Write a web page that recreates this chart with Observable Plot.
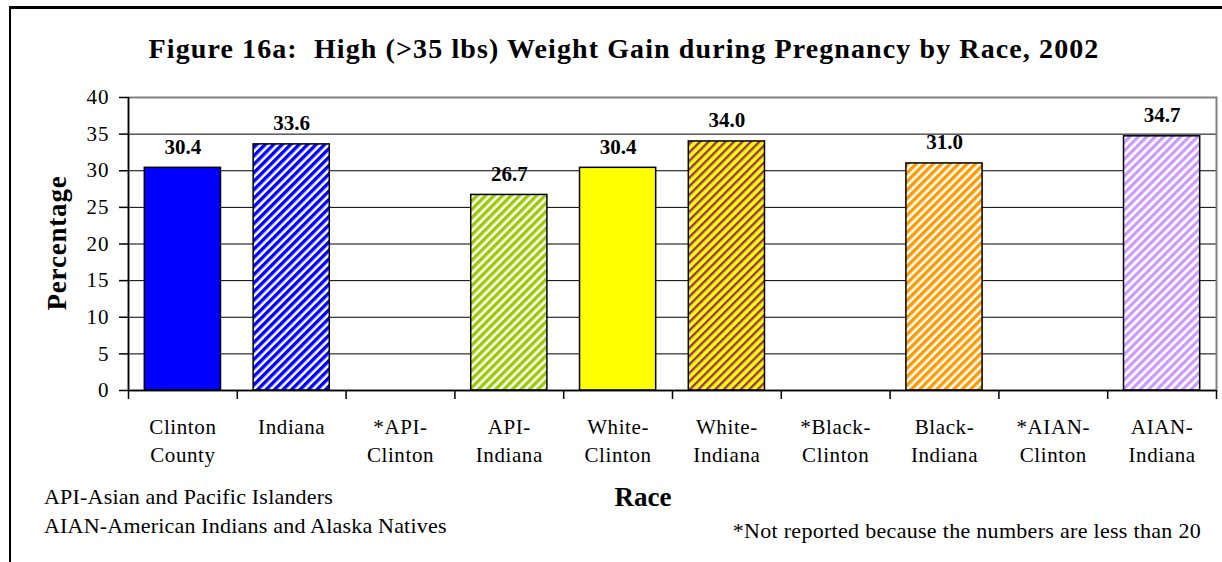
<!DOCTYPE html>
<html>
<head>
<meta charset="utf-8">
<script src="https://cdn.jsdelivr.net/npm/d3@7"></script>
<script src="https://cdn.jsdelivr.net/npm/@observablehq/plot@0.6"></script>
<style>
  body { margin: 0; background: #fff; }
  #wrap { position: relative; width: 1222px; height: 562px; overflow: hidden; font-family: "Liberation Serif", "Times New Roman", serif; color: #000; }
  #outer { position: absolute; left: 9px; top: 6px; width: 1300px; height: 700px; border-left: 2px solid #000; border-top: 3px solid #000; }
  #chart { position: absolute; left: 0; top: 0; }
  #chart svg text { font-family: "Liberation Serif", "Times New Roman", serif; }
  .t { position: absolute; white-space: nowrap; line-height: 1; }
</style>
</head>
<body>
<div id="wrap">
  <div id="outer"></div>
  <div id="chart"></div>
  <div class="t" style="left:0;width:1248px;text-align:center;top:35px;font-size:28px;font-weight:bold;letter-spacing:1.1px;">Figure 16a:&nbsp; High (&gt;35 lbs) Weight Gain during Pregnancy by Race, 2002</div>
  <div class="t" id="ylab" style="left:57px;top:243px;font-size:27px;font-weight:bold;letter-spacing:0.8px;transform:translate(-50%,-50%) rotate(-90deg);">Percentage</div>
  <div class="t" style="left:543px;width:200px;text-align:center;top:484px;font-size:27px;font-weight:bold;">Race</div>
  <div class="t" style="left:44px;top:486px;font-size:22px;letter-spacing:0.2px;">API-Asian and Pacific Islanders</div>
  <div class="t" style="left:44px;top:515px;font-size:22px;letter-spacing:0.2px;">AIAN-American Indians and Alaska Natives</div>
  <div class="t" style="right:21px;top:520px;font-size:22px;letter-spacing:0.3px;">*Not reported because the numbers are less than 20</div>
</div>
<script>
// ---- data ----
const categories = ["Clinton County", "Indiana", "*API-Clinton", "API-Indiana", "White-Clinton", "White-Indiana", "*Black-Clinton", "Black-Indiana", "*AIAN-Clinton", "AIAN-Indiana"];
const values = [30.4, 33.6, null, 26.7, 30.4, 34.0, null, 31.0, null, 34.7];
const yTicks = [0, 5, 10, 15, 20, 25, 30, 35, 40];

// ---- styles ----
const fillStyles = {
  "Clinton County": "#0000FF",
  "Indiana": "url(#pBlue)",
  "API-Indiana": "url(#pGreen)",
  "White-Clinton": "#FFFF00",
  "White-Indiana": "url(#pYellow)",
  "Black-Indiana": "url(#pOrange)",
  "AIAN-Indiana": "url(#pLav)"
};

const data = categories.map((c, i) => ({category: c, value: values[i]})).filter(d => d.value != null);

const W = 1222, H = 562, mL = 128, mR = 6, mT = 97, mB = 172;
const pIn = 0.3, pOut = 0.15;
const step = (W - mL - mR) / (categories.length - pIn + 2 * pOut);
const fmt = s => s.replace("-", "-\n").replace(" ", "\n");

const chart = Plot.plot({
  width: W, height: H,
  marginTop: mT, marginBottom: mB, marginLeft: mL, marginRight: mR,
  style: {fontFamily: "'Liberation Serif', 'Times New Roman', serif", fontSize: "20px", color: "black", background: "transparent", overflow: "visible"},
  x: {domain: categories, paddingInner: pIn, paddingOuter: pOut, round: false, label: null},
  y: {domain: [0, 40], label: null},
  color: {type: "identity"},
  marks: [
    Plot.ruleY(yTicks.filter(t => t > 0 && t < 40), {stroke: "black", strokeWidth: 1}),
    Plot.frame({stroke: "#808080", strokeWidth: 2}),
    Plot.barY(data, {x: "category", y: "value", fill: d => fillStyles[d.category], stroke: "black", strokeWidth: 1.5}),
    Plot.text(data, {x: "category", y: "value", text: d => d.value.toFixed(1), dy: -14, lineAnchor: "bottom", fontWeight: "bold", fontSize: 21, fill: "black"}),
    Plot.ruleY([0], {stroke: "black", strokeWidth: 1.5}),
    Plot.ruleX([categories[0]], {x: d => d, y1: 40, y2: 0, insetBottom: -9, dx: -step / 2, stroke: "black", strokeWidth: 1.5}),
    Plot.ruleX(categories.slice(1), {x: d => d, y1: 0, y2: 0, insetBottom: -9, dx: -step / 2, stroke: "black", strokeWidth: 1.5}),
    Plot.ruleX([categories[categories.length - 1]], {x: d => d, y1: 0, y2: 0, insetBottom: -9, dx: step / 2, stroke: "black", strokeWidth: 1.5}),
    Plot.axisY({ticks: yTicks, tickSize: 9, tickPadding: 10, fontSize: 21, label: null, tickFormat: d => String(d), stroke: "black", strokeWidth: 1.5}),
    Plot.axisX({tickSize: 0, tickPadding: 24, tickFormat: fmt, fontSize: 21, lineHeight: 1.33, label: null})
  ]
});

// stripe patterns
const defs = d3.select(chart).insert("defs", ":first-child");
function stripes(id, base, stripe, sw) {
  const s = 6;
  const p = defs.append("pattern").attr("id", id).attr("patternUnits", "userSpaceOnUse")
    .attr("width", s).attr("height", s).attr("patternTransform", "rotate(45)");
  p.append("rect").attr("width", s).attr("height", s).attr("fill", base);
  p.append("rect").attr("width", sw).attr("height", s).attr("fill", stripe);
}
stripes("pBlue", "#FFFFFF", "#0000FF", 3.4);
stripes("pGreen", "#FFFFFF", "#99CC00", 3.4);
stripes("pYellow", "#FFFF00", "#993366", 2.4);
stripes("pOrange", "#FFFFFF", "#FF9900", 3.4);
stripes("pLav", "#FFFFFF", "#CC99FF", 3.2);

d3.select(chart).selectAll("g[aria-label='x-axis tick label']").style("letter-spacing", "0.6px");
d3.select(chart).selectAll("g[aria-label='y-axis tick label']").style("letter-spacing", "1px");

document.getElementById("chart").appendChild(chart);
</script>
</body>
</html>
